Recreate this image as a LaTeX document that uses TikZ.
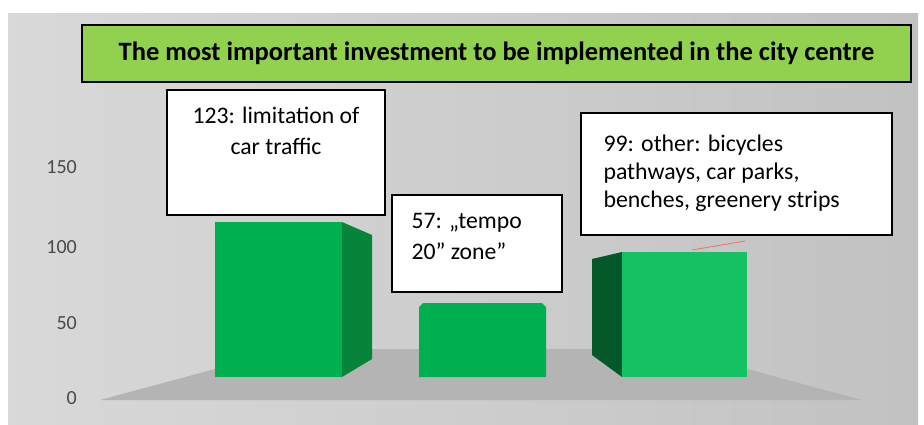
\documentclass[tikz,border=0pt]{standalone}
\usepackage{fontspec}
\setmainfont{Carlito}
\usetikzlibrary{positioning}
\definecolor{titlegreen}{HTML}{92D050}
\definecolor{barfront}{HTML}{00B050}
\definecolor{barlight}{HTML}{14C264}
\definecolor{barside}{HTML}{05843A}
\definecolor{bardark}{HTML}{03592A}
\definecolor{floorgray}{HTML}{B4B4B4}
\definecolor{ticktext}{HTML}{4A4A4A}
\begin{document}
\begin{tikzpicture}[x=1pt,y=-1pt]
    \tikzset{box/.style={draw=black,line width=1.3pt,fill=white,inner sep=0pt},
             lbl/.style={inner sep=0pt,font=\fontsize{23.7}{31}\selectfont},
             tick/.style={anchor=east,inner sep=0pt,text=ticktext,font=\fontsize{20}{20}\selectfont}}
    \useasboundingbox (0,0) rectangle (924,424);
    \fill[white] (0,0) rectangle (924,424);
    \shade[left color=gray!30,middle color=white!94!gray,right color=gray!48] (8,13) rectangle (918,424);
    % floor of the chart
    \fill[floorgray] (100,400) -- (289,349) -- (673,349) -- (862,400) -- cycle;
    % bars
    \fill[barfront] (215,222) rectangle (342,377);
    \fill[barside] (342,222) -- (372,235) -- (372,359) -- (342,377) -- cycle;
    \fill[barfront] (419,377) -- (419,307) -- (423,303) -- (542,303) -- (546,307) -- (546,377) -- cycle;
    \fill[bardark] (592,259) -- (622,252) -- (622,377) -- (592,355) -- cycle;
    \fill[barlight] (622,252) rectangle (747,377);
    \foreach \val/\ypos in {0/398,50/323,100/247,150/167}
        \node[tick] (tick\val) at (77,\ypos) {\val};
    \node[box,fill=titlegreen,minimum width=829pt,minimum height=57pt,
          font=\bfseries\fontsize{26.5}{30}\selectfont] (title) at (496.5,53.5)
        {The most important investment to be implemented in the city centre};
    \node[box,minimum width=218pt,minimum height=125pt] (box1) at (276,152.5) {};
    \node[lbl,anchor=north,align=center] (lab1) at ([yshift=-17.5pt]box1.north)
        {123: limitation of\\car traffic};
    \node[box,minimum width=170pt,minimum height=97pt] (box2) at (477,243.5) {};
    \node[lbl,anchor=north west,align=left] (lab2) at ([xshift=20pt,yshift=-19pt]box2.north west)
        {57: „tempo\\20” zone”};
    \node[box,minimum width=311pt,minimum height=122pt] (box3) at (736.5,174) {};
    \node[lbl,anchor=north west,align=left,font=\fontsize{23.8}{28}\selectfont] (lab3)
        at ([xshift=23pt,yshift=-22pt]box3.north west)
        {99: other: bicycles\\pathways, car parks,\\benches, greenery strips};
    \coordinate (top3) at (692,250);
    \coordinate (lead3) at (745,241);
    \draw[red!45!pink,line width=0.8pt] (top3) -- (lead3);
\end{tikzpicture}
\end{document}
